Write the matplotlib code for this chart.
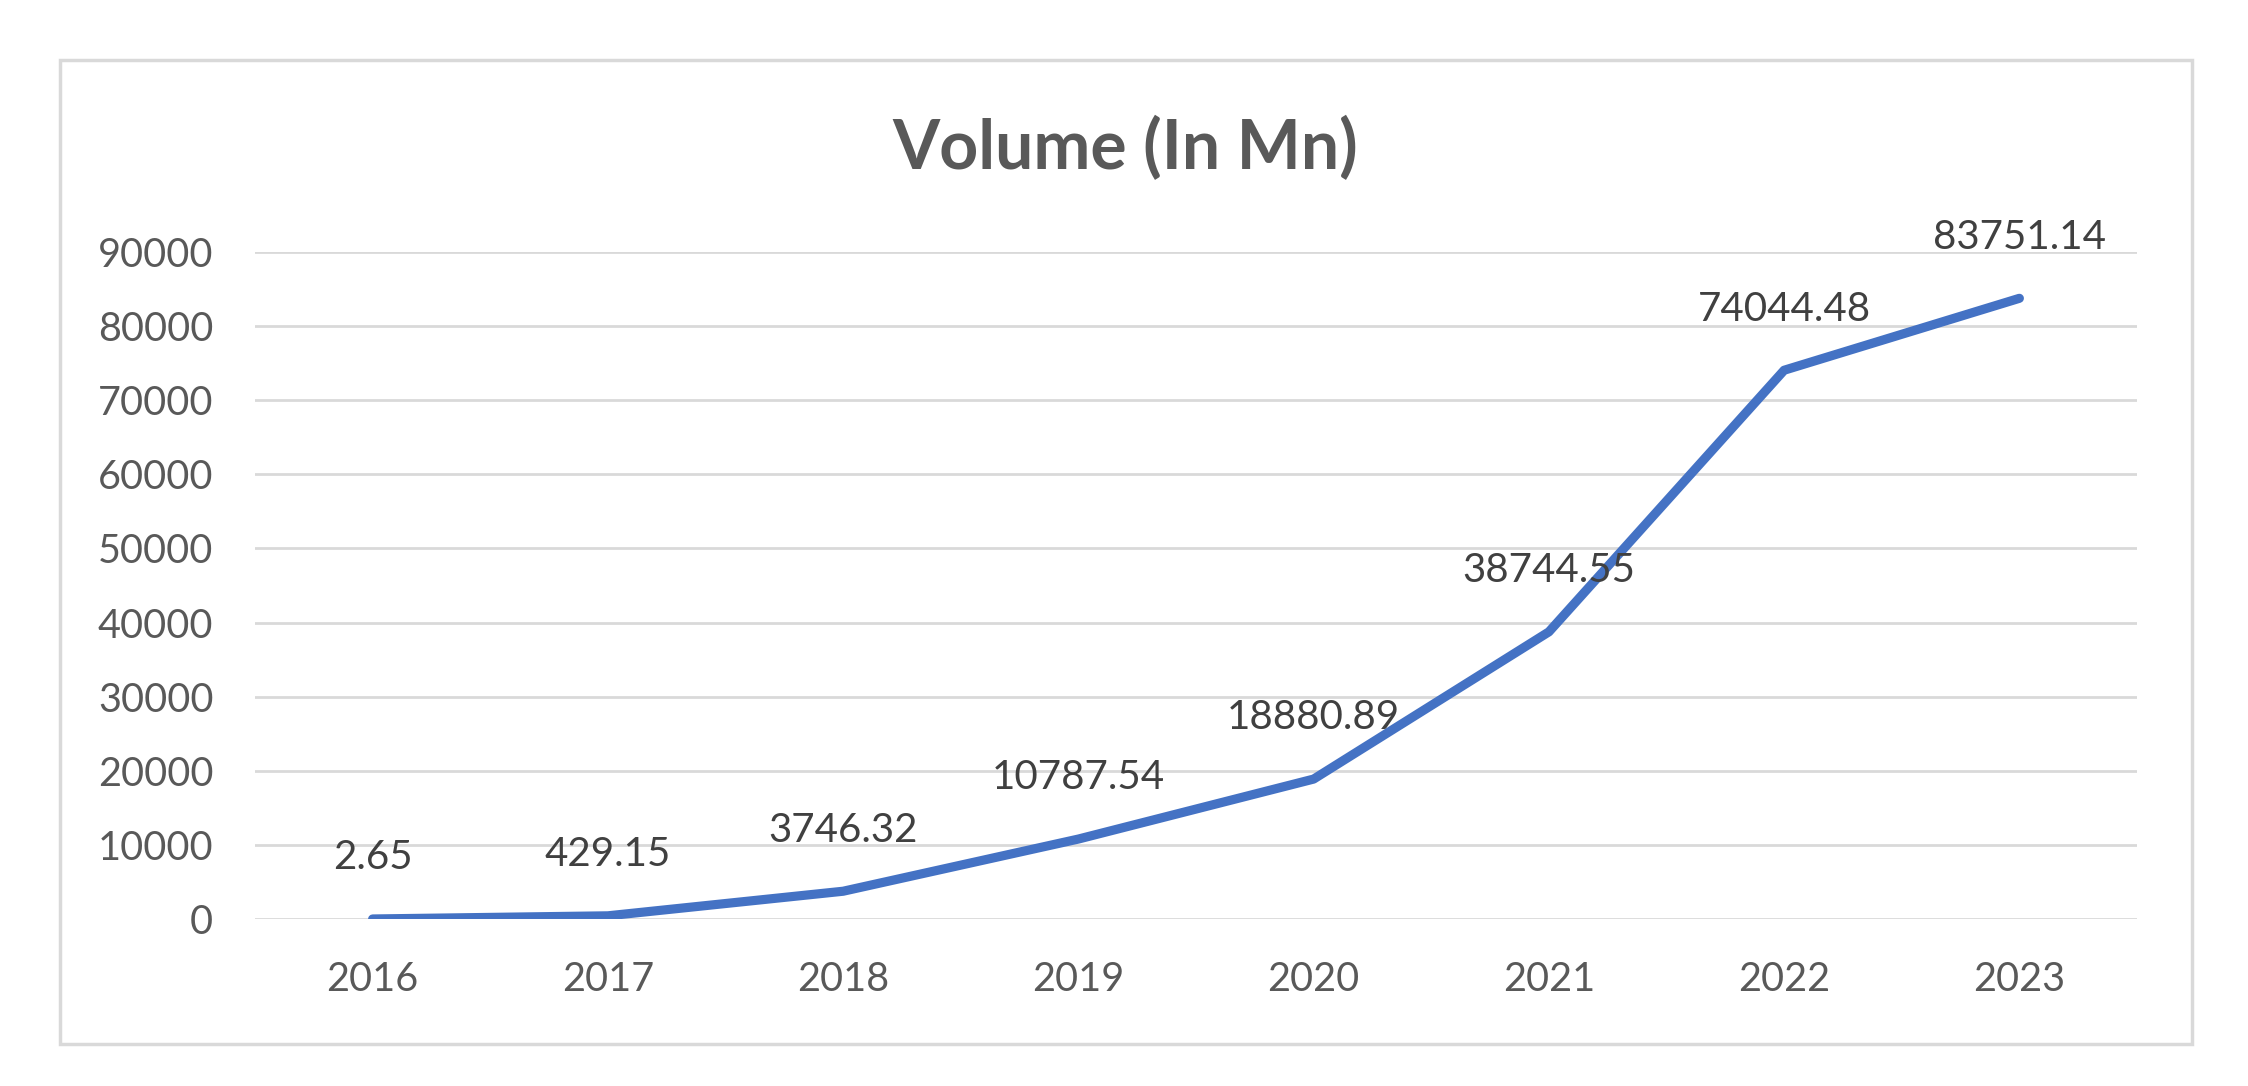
import matplotlib
matplotlib.use("Agg")
import matplotlib.pyplot as plt
from matplotlib.patches import Rectangle

# yearly volume, in millions
years = ["2016", "2017", "2018", "2019", "2020", "2021", "2022", "2023"]
volume = [2.65, 429.15, 3746.32, 10787.54, 18880.89, 38744.55, 74044.48, 83751.14]
y_ticks = [0, 10000, 20000, 30000, 40000, 50000, 60000, 70000, 80000, 90000]

plt.rcParams['font.family'] = ['Lato', 'DejaVu Sans']

fig = plt.figure(figsize=(22.48, 10.86), dpi=100)
fig.patch.set_facecolor('white')

# chart border
fig.patches.append(Rectangle((60 / 2248, 1 - 1044 / 1086), (2192 - 60) / 2248, (1044 - 60) / 1086,
                             transform=fig.transFigure, fill=False,
                             edgecolor='#d9d9d9', linewidth=2.5, zorder=0))

ax = fig.add_axes([255 / 2248, 1 - 919 / 1086, (2137 - 255) / 2248, (919 - 252) / 1086])

x = list(range(len(years)))
ax.plot(x, volume, color='#4472C4', linewidth=6.6, solid_capstyle='round',
        solid_joinstyle='round', zorder=3)

for xi, v in zip(x, volume):
    ax.annotate(f"{v:.2f}", (xi, v), xytext=(0, 44), textcoords='offset points',
                ha='center', va='center', fontsize=29, color='#404040',
                annotation_clip=False, zorder=4)

ax.set_xlim(-0.5, len(years) - 0.5)
ax.set_ylim(0, 90000)
ax.set_xticks(x)
ax.set_xticklabels(years)
ax.set_yticks(y_ticks)
ax.set_yticklabels([str(t) for t in y_ticks])
ax.tick_params(axis='both', length=0, labelsize=28.5, labelcolor='#595959')
ax.tick_params(axis='x', pad=30)
ax.tick_params(axis='y', pad=30)

ax.grid(axis='y', color='#d9d9d9', linewidth=2)
ax.set_axisbelow(True)
for s in ax.spines.values():
    s.set_visible(False)

fig.text(1125 / 2248, 1 - 148 / 1086, "Volume (In Mn)", ha='center', va='center',
         fontsize=49, fontweight='bold', color='#595959')

fig.savefig("out.png", dpi=100)
